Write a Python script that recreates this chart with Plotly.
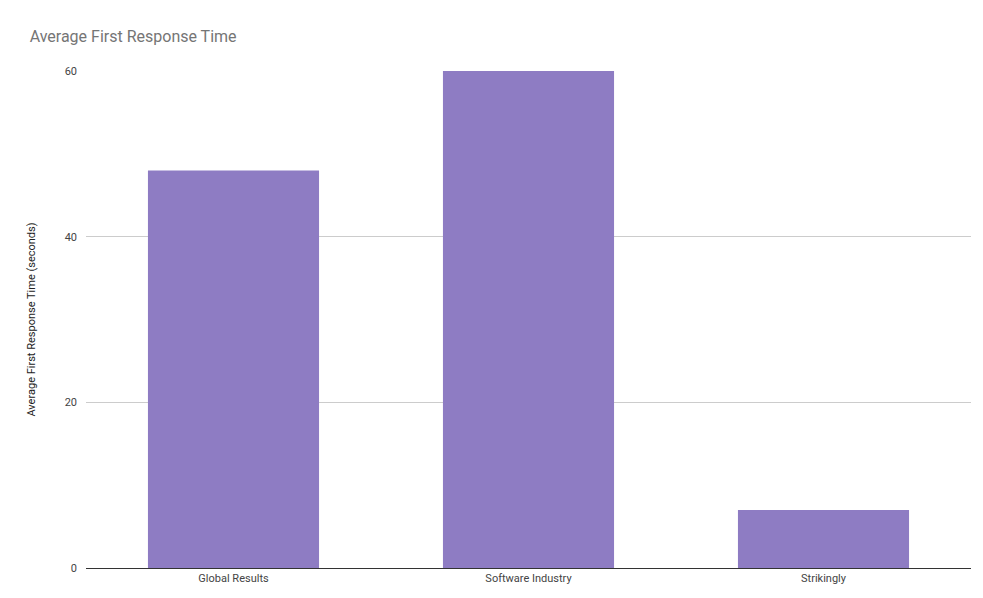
import plotly.graph_objects as go

categories = ["Global Results", "Software Industry", "Strikingly"]
response_seconds = [48, 60, 7]
y_ticks = [0, 20, 40, 60]

fig = go.Figure()
fig.add_trace(go.Bar(
    x=categories,
    y=response_seconds,
    marker=dict(color="#8e7cc3", line=dict(width=0)),
))

fig.update_layout(
    width=983,
    height=598,
    paper_bgcolor="white",
    plot_bgcolor="white",
    font=dict(family="Roboto", color="#444444", size=11),
    title=dict(text="Average First Response Time", x=0.022, xanchor="left",
               y=0.953, yanchor="middle", font=dict(size=16, color="#757575")),
    margin=dict(l=78, r=20, t=63, b=38),
    bargap=0.42,
    showlegend=False,
    xaxis=dict(showline=True, linecolor="#333333", linewidth=1, ticks="",
               tickfont=dict(size=11, color="#444444")),
    yaxis=dict(range=[0, 60], tickvals=y_ticks, gridcolor="#cccccc",
               zeroline=False, ticks="", ticklabelstandoff=8,
               tickfont=dict(size=11, color="#444444"),
               title=dict(text="Average First Response Time (seconds)",
                          font=dict(size=11, color="#222222"), standoff=26)),
)

fig.write_html("out.html")
